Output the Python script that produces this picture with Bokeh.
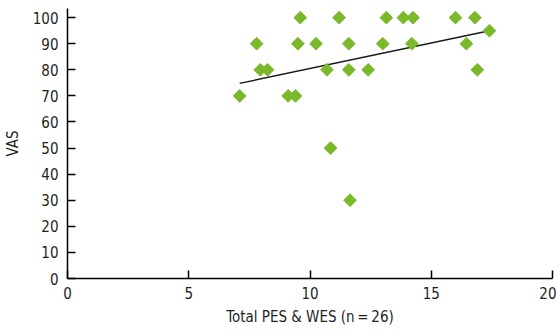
import numpy as np
from bokeh.plotting import figure
from bokeh.models import Range1d, FixedTicker, ColumnDataSource
from bokeh.embed import file_html
from bokeh.resources import INLINE

# Data
pes_wes = [7.1, 7.8, 7.95, 8.25, 9.1, 9.4, 9.6, 9.5, 10.25, 10.7, 10.85, 11.2,
           11.6, 11.6, 11.65, 12.4, 13.0, 13.15, 13.85, 14.25, 14.2, 16.0, 16.45,
           16.8, 16.9, 17.4]
vas = [70, 90, 80, 80, 70, 70, 100, 90, 90, 80, 50, 100,
       90, 80, 30, 80, 90, 100, 100, 100, 90, 100, 90,
       100, 80, 95]
trend_x = [7.1, 17.4]
trend_y = [74.8, 95.0]
x_ticks = [0, 5, 10, 15, 20]
y_ticks = [0, 10, 20, 30, 40, 50, 60, 70, 80, 90, 100]

FONT = "DejaVu Sans Condensed, Roboto, sans-serif"

p = figure(width=556, height=332, output_backend="svg", toolbar_location=None,
           x_range=Range1d(0, 20), y_range=Range1d(0, 103.5),
           min_border_left=67, min_border_right=4, min_border_top=8,
           min_border_bottom=54)
p.outline_line_color = None
p.xgrid.visible = False
p.ygrid.visible = False

src = ColumnDataSource(dict(x=pes_wes, y=vas))
p.line(trend_x, trend_y, line_color="#1a1a1a", line_width=1.5)
p.scatter("x", "y", source=src, marker="square", angle=np.pi / 4, size=9,
          fill_color="#7ab929", line_color="#7ab929")

for ax in (p.xaxis[0], p.yaxis[0]):
    ax.axis_line_color = "black"
    ax.axis_line_width = 1.5
    ax.major_tick_line_color = "black"
    ax.major_tick_line_width = 1.5
    ax.major_tick_in = 8
    ax.major_tick_out = 0
    ax.minor_tick_line_color = None
    ax.major_label_text_font = FONT
    ax.major_label_text_font_size = "15px"
    ax.major_label_text_color = "#231f20"
    ax.axis_label_text_font = FONT
    ax.axis_label_text_font_size = "15px"
    ax.axis_label_text_font_style = "normal"
    ax.axis_label_text_color = "#231f20"

p.xaxis.ticker = FixedTicker(ticks=x_ticks)
p.yaxis.ticker = FixedTicker(ticks=y_ticks)
p.xaxis.axis_label = "Total PES & WES (n\u2009=\u200926)"
p.yaxis.axis_label = "VAS"
p.xaxis.major_label_standoff = 8
p.yaxis.major_label_standoff = 9
p.xaxis.axis_label_standoff = 6
p.yaxis.axis_label_standoff = 8

open("out.html", "w").write(file_html(p, INLINE))
